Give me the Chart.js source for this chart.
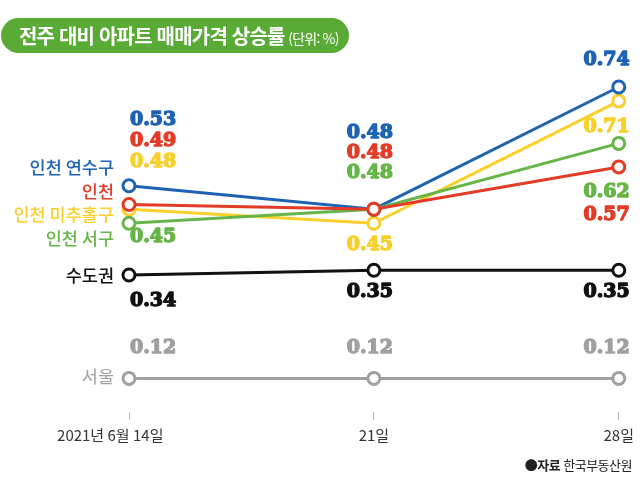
<!DOCTYPE html>
<html lang="ko">
<head>
<meta charset="utf-8">
<script src="https://cdn.jsdelivr.net/npm/chart.js@4.4.1/dist/chart.umd.min.js"></script>
<style>
    html, body { margin: 0; padding: 0; background: #fff; }
    #wrap { position: relative; width: 640px; height: 487px; overflow: hidden; font-family: "Noto Sans CJK KR", sans-serif; }
    #chart { position: absolute; left: 0; top: 0; }
    #title {
        position: absolute; left: 1px; top: 18px; width: 348px; height: 35px;
        background: #5aaa36; border-radius: 18px; color: #fff; box-sizing: border-box;
        padding-left: 18px; line-height: 35px; white-space: nowrap; letter-spacing: -0.8px;
    }
    #title b { font-size: 20px; font-weight: 700; }
    #title span { font-size: 14px; font-weight: 400; }
    #source { position: absolute; right: 8px; top: 455px; font-size: 13px; color: #222; letter-spacing: -0.5px; }
    #source b { font-weight: 700; }
</style>
</head>
<body>
<div id="wrap">
    <canvas id="chart" width="640" height="487"></canvas>
    <div id="title"><b>전주 대비 아파트 매매가격 상승률</b> <span>(단위: %)</span></div>
    <div id="source"><b>●자료</b> 한국부동산원</div>
</div>
<script>
// 데이터
const weeks = ['2021년 6월 14일' + '\u2002'.repeat(5), '21일', '28일'];
const seriesNames = ['인천 연수구', '인천', '인천 미추홀구', '인천 서구', '수도권', '서울'];
const yeonsu = [0.53, 0.48, 0.74];
const incheon = [0.49, 0.48, 0.57];
const michuhol = [0.48, 0.45, 0.71];
const seogu = [0.45, 0.48, 0.62];
const sudogwon = [0.34, 0.35, 0.35];
const seoul = [0.12, 0.12, 0.12];

const colors = ['#1d62b3', '#e23b26', '#f9cf2b', '#67b548', '#111111', '#a0a0a0'];

// 라벨 위치 (포인트 기준 px)
const nameOffsets = [-18, -13, 5, 15, 0, -2];
const valueOffsets = [
    [-66, -76, -27],
    [-63, -56, 48],
    [-47, 22, 26],
    [14, -36, 49],
    [26, 22, 22],
    [-30, -30, -30]
];
const colAlign = ['left', 'center', 'right'];
const colDx = [1, -4, 11];

const labelPlugin = {
    id: 'labels',
    afterDatasetsDraw(chart) {
        const ctx = chart.ctx;
        chart.data.datasets.forEach((ds, i) => {
            const meta = chart.getDatasetMeta(i);
            const pts = meta.data;
            ctx.save();
            // 시리즈 이름
            ctx.fillStyle = ds.borderColor;
            ctx.font = (i === 5 ? '400' : '500') + ' 17.5px "Noto Sans CJK KR"';
            ctx.textAlign = 'right';
            ctx.textBaseline = 'middle';
            ctx.fillText(seriesNames[i], pts[0].x - 15, pts[0].y + nameOffsets[i]);
            // 값
            ctx.font = 'bold 19px "DejaVu Serif"';
            ctx.strokeStyle = ds.borderColor;
            ctx.lineWidth = 1.4;
            ctx.lineJoin = 'round';
            pts.forEach((p, j) => {
                ctx.textAlign = colAlign[j];
                const txt = ds.data[j].toFixed(2);
                const y = p.y + valueOffsets[i][j];
                ctx.strokeText(txt, p.x + colDx[j], y);
                ctx.fillText(txt, p.x + colDx[j], y);
            });
            ctx.restore();
        });
    }
};

const drawOrder = [3, 1, 4, 2, 5, 6];
const allData = [yeonsu, incheon, michuhol, seogu, sudogwon, seoul];

new Chart(document.getElementById('chart'), {
    type: 'line',
    data: {
        labels: weeks,
        datasets: allData.map((d, i) => ({
            label: seriesNames[i],
            data: d,
            borderColor: colors[i],
            backgroundColor: '#fff',
            pointBackgroundColor: '#fff',
            pointBorderColor: colors[i],
            borderWidth: 3,
            pointRadius: 6,
            pointBorderWidth: 3,
            tension: 0,
            order: drawOrder[i],
            clip: false
        }))
    },
    options: {
        responsive: false,
        animation: false,
        events: [],
        layout: { padding: { left: 129, right: 21, top: 40, bottom: 0 } },
        plugins: { legend: { display: false }, tooltip: { enabled: false } },
        scales: {
            y: { display: false, min: 0.0485, max: 0.84 },
            x: {
                offset: false,
                border: { display: false },
                grid: { drawOnChartArea: false, drawTicks: true, tickLength: 8, color: '#bbbbbb', lineWidth: 1 },
                ticks: { color: '#333', font: { family: 'Noto Sans CJK KR', size: 15 }, padding: 6, maxRotation: 0, autoSkip: false },
                afterFit: (scale) => { scale.height = 75; }
            }
        }
    },
    plugins: [labelPlugin]
});
</script>
</body>
</html>
